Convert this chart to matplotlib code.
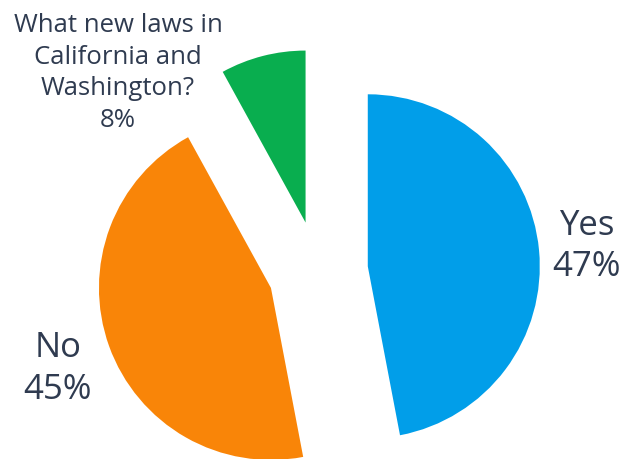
import matplotlib
matplotlib.use("Agg")
import matplotlib.pyplot as plt

# data
categories = ["Yes", "No", "What new laws in\nCalifornia and\nWashington?"]
shares = [47, 45, 8]
colors = ["#019ee9", "#f98508", "#09ae4f"]

plt.rcParams["font.family"] = ["Open Sans", "DejaVu Sans"]
TEXT = "#2f3b50"

fig = plt.figure(figsize=(6.39, 4.60), dpi=100)
ax = fig.add_axes([0, 0, 1, 1])

# axes in pixel units, pie centre at the origin
R = 172

labels = [f"{c}\n{v}%" for c, v in zip(categories, shares)]
wedges, texts = ax.pie(
    shares, labels=labels, colors=colors, radius=R, center=(0, 0),
    startangle=90, counterclock=False, explode=[50] * len(shares),
    labeldistance=1.28, frame=True,
    wedgeprops=dict(linewidth=0),
    textprops=dict(color=TEXT, fontsize=25, ha="center", va="center",
                   multialignment="center", linespacing=1.27),
)
ax.set_xlim(-318, 321)
ax.set_ylim(-188, 272)
ax.set_aspect("equal")
ax.axis("off")

# nudge the "No" label, and move the small one up-left, away from its slice
texts[1].set_position((-260, -97))
texts[2].set_fontsize(18.5)
texts[2].set_linespacing(1.36)
texts[2].set_position((-200, 199))

fig.savefig("out.png", dpi=100)
